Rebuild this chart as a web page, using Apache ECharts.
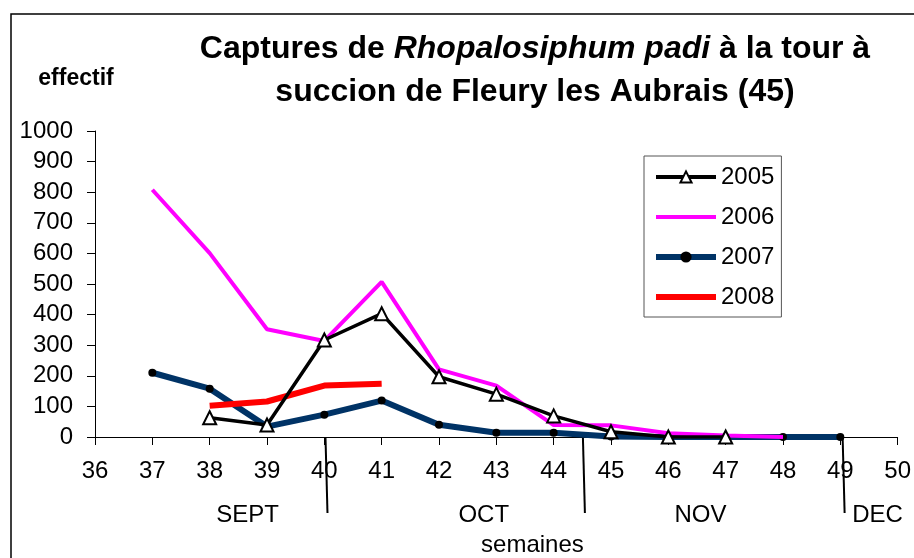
<!DOCTYPE html>
<html>
<head>
<meta charset="utf-8">
<script src="https://cdn.jsdelivr.net/npm/echarts@6/dist/echarts.min.js"></script>
<style>
  html, body { margin: 0; padding: 0; background: #fff; }
  #chart { width: 914px; height: 558px; }
</style>
</head>
<body>
<div id="chart"></div>
<script>
// semaines 37..49
const weeks = [37, 38, 39, 40, 41, 42, 43, 44, 45, 46, 47, 48, 49];
const y2005 = [null, 63, 39, 317, 403, 197, 140, 69, 17, 0, 0, null, null];
const y2006 = [808, 601, 352, 314, 507, 221, 168, 39, 38, 12, 5, 0, null];
const y2007 = [210, 158, 34, 73, 119, 40, 14, 14, 2, 0, 0, 0, 0];
const y2008 = [null, 102, 116, 168, 174, null, null, null, null, null, null, null, null];

const yTicks = [0, 1000, 100];       // min, max, interval
const xTicks = [36, 50, 1];

// mois sous l'axe (positions en semaines)
const months = ['SEPT', 'OCT', 'NOV', 'DEC'];
const monthCenters = [38.66, 42.78, 46.56, 49.65];
const monthBounds = [40.02, 44.51, 49.04];

const font = '"Liberation Sans", Arial, sans-serif';

function pairs(vals) {
  return weeks.map((w, i) => [w, vals[i]]).filter(p => p[1] !== null);
}

const chart = echarts.init(document.getElementById('chart'));
chart.setOption({
  animation: false,
  textStyle: { fontFamily: font, color: '#000' },
  title: {
    left: 530,
    top: 23,
    textAlign: 'center',
    text: '{b|Captures de }{i|Rhopalosiphum padi}{b| à la tour à}\n{b|succion de Fleury les Aubrais (45)}',
    textStyle: {
      rich: {
        b: { fontSize: 32, fontWeight: 'bold', fontFamily: font, color: '#000', lineHeight: 43 },
        i: { fontSize: 32, fontWeight: 'bold', fontStyle: 'italic', fontFamily: font, color: '#000', lineHeight: 43 }
      }
    }
  },
  grid: { left: 95, right: 14, top: 131, bottom: 121, containLabel: false },
  legend: {
    orient: 'vertical',
    left: 644,
    top: 156,
    padding: [9, 7, 8, 9],
    itemWidth: 60,
    itemHeight: 14,
    itemGap: 16,
    borderColor: '#555',
    borderWidth: 1,
    textStyle: { fontSize: 24, fontFamily: font, color: '#000' },
    data: [
      { name: '2005', lineStyle: { width: 4 } },
      { name: '2006', lineStyle: { width: 4 }, itemStyle: { opacity: 0 } },
      { name: '2007', lineStyle: { width: 6 } },
      { name: '2008', lineStyle: { width: 6 }, itemStyle: { opacity: 0 } }
    ]
  },
  xAxis: {
    type: 'value',
    min: xTicks[0],
    max: xTicks[1],
    interval: xTicks[2],
    splitLine: { show: false },
    axisLine: { lineStyle: { color: '#000', width: 1 } },
    axisTick: { show: true, length: 8, inside: false, lineStyle: { color: '#000' } },
    axisLabel: { fontSize: 24, color: '#000', margin: 22, fontFamily: font }
  },
  yAxis: {
    type: 'value',
    min: yTicks[0],
    max: yTicks[1],
    interval: yTicks[2],
    splitLine: { show: false },
    axisLine: { show: true, lineStyle: { color: '#000', width: 1 } },
    axisTick: { show: true, length: 8, lineStyle: { color: '#000' } },
    axisLabel: { fontSize: 24, color: '#000', margin: 22, fontFamily: font,
                 formatter: v => String(v) }
  },
  series: [
    {
      name: '2005', type: 'line', z: 4,
      data: pairs(y2005),
      symbol: 'triangle', symbolSize: 13,
      lineStyle: { color: '#000', width: 3.5 },
      itemStyle: { color: '#fff', borderColor: '#000', borderWidth: 2 }
    },
    {
      name: '2006', type: 'line', z: 3,
      data: pairs(y2006),
      symbol: 'none',
      lineStyle: { color: '#ff00ff', width: 4 },
      itemStyle: { color: '#ff00ff' }
    },
    {
      name: '2007', type: 'line', z: 2,
      data: pairs(y2007),
      symbol: 'circle', symbolSize: 8,
      lineStyle: { color: '#003366', width: 6 },
      itemStyle: { color: '#000' }
    },
    {
      name: '2008', type: 'line', z: 3,
      data: pairs(y2008),
      symbol: 'none',
      lineStyle: { color: '#ff0000', width: 6 },
      itemStyle: { color: '#ff0000' }
    }
  ]
});

// annotations : cadre, "effectif", mois, séparateurs, "semaines"
const baseY = chart.convertToPixel({ yAxisIndex: 0 }, 0);
const g = [
  { type: 'rect', shape: { x: 11, y: 14, width: 1000, height: 1000 },
    style: { fill: 'none', stroke: '#000', lineWidth: 1.5 }, silent: true },
  { type: 'text', x: 76, y: 79,
    style: { text: 'effectif', fontSize: 23, fontWeight: 'bold', fontFamily: font,
             fill: '#000', align: 'center', verticalAlign: 'middle' } },
  { type: 'text', x: chart.convertToPixel({ xAxisIndex: 0 }, 43.63), y: 545,
    style: { text: 'semaines', fontSize: 24, fontFamily: font,
             fill: '#000', align: 'center', verticalAlign: 'middle' } }
];
months.forEach((m, i) => {
  g.push({ type: 'text', x: chart.convertToPixel({ xAxisIndex: 0 }, monthCenters[i]), y: 515,
    style: { text: m, fontSize: 24, fontFamily: font, fill: '#000',
             align: 'center', verticalAlign: 'middle' } });
});
monthBounds.forEach(w => {
  const x = chart.convertToPixel({ xAxisIndex: 0 }, w);
  g.push({ type: 'line', shape: { x1: x, y1: baseY, x2: x + 2, y2: baseY + 76 },
    style: { stroke: '#000', lineWidth: 2 } });
});
chart.setOption({ graphic: g });
</script>
</body>
</html>
